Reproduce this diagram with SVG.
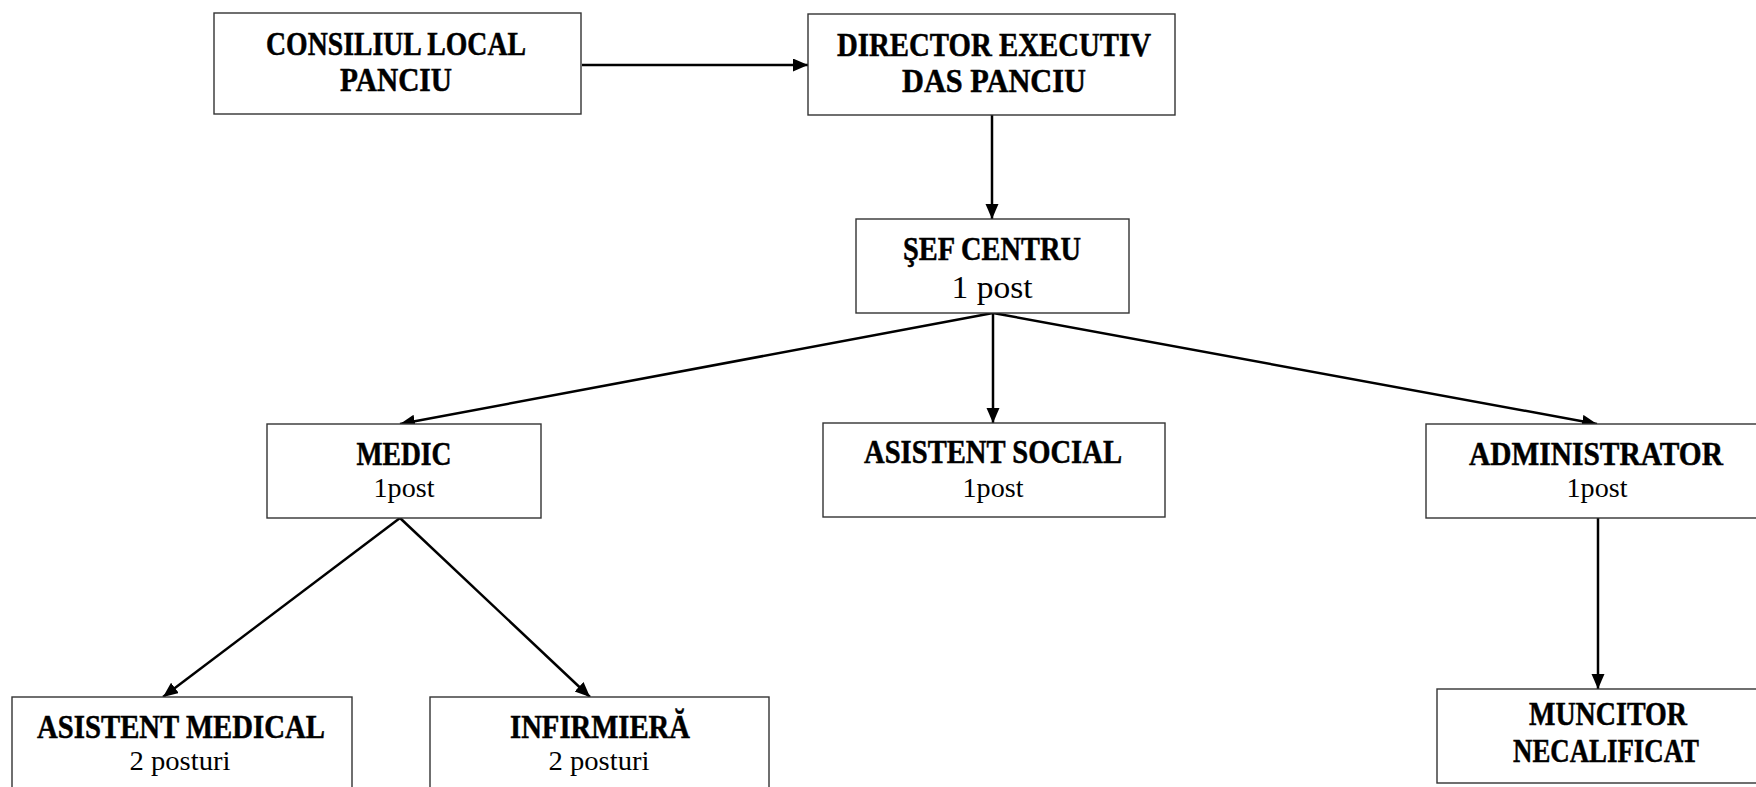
<svg xmlns="http://www.w3.org/2000/svg" width="1756" height="787" viewBox="0 0 1756 787">
<style>
.box{fill:#fff;stroke:#333;stroke-width:1.4}
.t{font-family:"Liberation Serif","Times New Roman",serif;font-weight:bold;font-size:34px;fill:#000;stroke:#000;stroke-width:0.5;text-anchor:middle}
.s{font-family:"Liberation Serif","Times New Roman",serif;font-size:27px;fill:#000;text-anchor:middle}
.c{stroke:#000;stroke-width:2.5;fill:none;marker-end:url(#ah)}
</style>
<defs>
<marker id="ah" markerUnits="userSpaceOnUse" markerWidth="16" markerHeight="14" refX="15" refY="6.5" orient="auto">
<path d="M0,0 L15,6.5 L0,13 z" fill="#000"/>
</marker>
</defs>
<rect width="1756" height="787" fill="#fff"/>
<g id="connectors">
<line class="c" x1="582" y1="65" x2="808" y2="65"/>
<line class="c" x1="992" y1="115" x2="992" y2="219"/>
<line class="c" x1="993" y1="313" x2="400" y2="424"/>
<line class="c" x1="993" y1="313" x2="993" y2="423"/>
<line class="c" x1="993" y1="313" x2="1597" y2="424"/>
<line class="c" x1="400" y1="518" x2="163" y2="697"/>
<line class="c" x1="400" y1="518" x2="590" y2="697"/>
<line class="c" x1="1598" y1="518" x2="1598" y2="689"/>
</g>
<g id="consiliul">
<rect class="box" x="214" y="13" width="367" height="101"/>
<text class="t" x="396" y="55" textLength="260" lengthAdjust="spacingAndGlyphs">CONSILIUL LOCAL</text>
<text class="t" x="396" y="91" textLength="112" lengthAdjust="spacingAndGlyphs">PANCIU</text>
</g>
<g id="director">
<rect class="box" x="808" y="14" width="367" height="101"/>
<text class="t" x="994" y="56" textLength="314" lengthAdjust="spacingAndGlyphs">DIRECTOR EXECUTIV</text>
<text class="t" x="994" y="92" textLength="184" lengthAdjust="spacingAndGlyphs">DAS PANCIU</text>
</g>
<g id="sef">
<rect class="box" x="856" y="219" width="273" height="94"/>
<text class="t" x="992" y="260" textLength="178" lengthAdjust="spacingAndGlyphs">ŞEF CENTRU</text>
<text class="s" x="992" y="298" style="font-size:31px" textLength="81" lengthAdjust="spacingAndGlyphs">1 post</text>
</g>
<g id="medic">
<rect class="box" x="267" y="424" width="274" height="94"/>
<text class="t" x="404" y="465" textLength="95" lengthAdjust="spacingAndGlyphs">MEDIC</text>
<text class="s" x="404" y="497" textLength="61" lengthAdjust="spacingAndGlyphs">1post</text>
</g>
<g id="social">
<rect class="box" x="823" y="423" width="342" height="94"/>
<text class="t" x="993" y="463" textLength="258" lengthAdjust="spacingAndGlyphs">ASISTENT SOCIAL</text>
<text class="s" x="993" y="497" textLength="61" lengthAdjust="spacingAndGlyphs">1post</text>
</g>
<g id="administrator">
<rect class="box" x="1426" y="424" width="332" height="94"/>
<text class="t" x="1596" y="465" textLength="254" lengthAdjust="spacingAndGlyphs">ADMINISTRATOR</text>
<text class="s" x="1597" y="497" textLength="61" lengthAdjust="spacingAndGlyphs">1post</text>
</g>
<g id="asistent-medical">
<rect class="box" x="12" y="697" width="340" height="92"/>
<text class="t" x="181" y="738" textLength="288" lengthAdjust="spacingAndGlyphs">ASISTENT MEDICAL</text>
<text class="s" x="180" y="770" style="font-size:28px" textLength="101" lengthAdjust="spacingAndGlyphs">2 posturi</text>
</g>
<g id="infirmiera">
<rect class="box" x="430" y="697" width="339" height="92"/>
<text class="t" x="600" y="738" textLength="180" lengthAdjust="spacingAndGlyphs">INFIRMIERĂ</text>
<text class="s" x="599" y="770" style="font-size:28px" textLength="101" lengthAdjust="spacingAndGlyphs">2 posturi</text>
</g>
<g id="muncitor">
<rect class="box" x="1437" y="689" width="321" height="94"/>
<text class="t" x="1608" y="725" textLength="158" lengthAdjust="spacingAndGlyphs">MUNCITOR</text>
<text class="t" x="1606" y="762" textLength="186" lengthAdjust="spacingAndGlyphs">NECALIFICAT</text>
</g>
</svg>
